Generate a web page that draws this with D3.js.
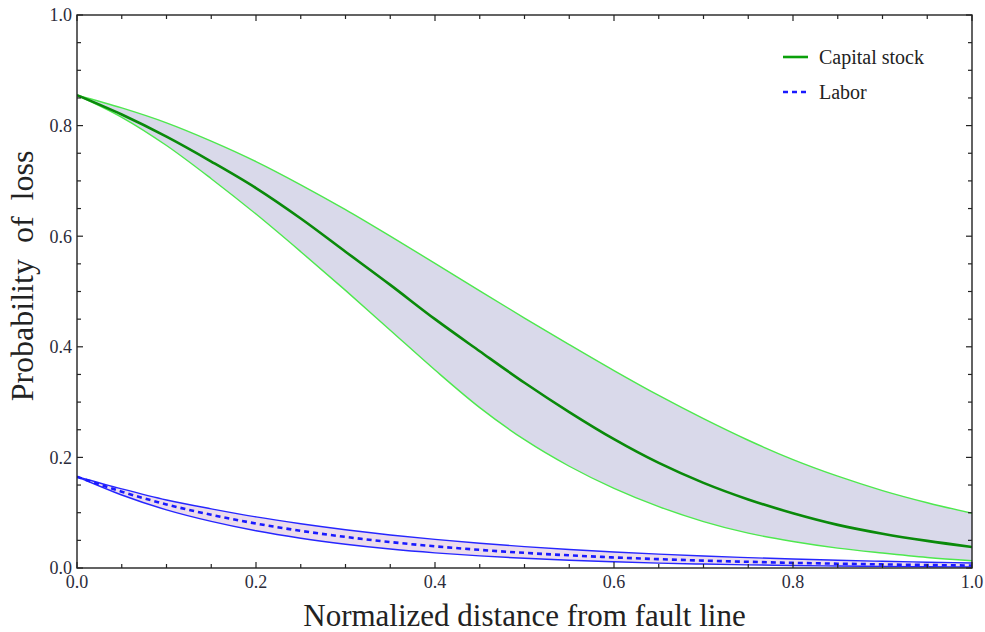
<!DOCTYPE html>
<html lang="en">
<head>
  <meta charset="UTF-8">
  <title>Probability of loss</title>
  <script src="https://d3js.org/d3.v7.min.js"></script>
  <style>
    body { margin: 0; background: #fff; }
    svg text { font-family: "Liberation Serif", "Times New Roman", serif; }
    .tick-label { font-size: 18px; fill: #2b2b3a; }
    .axis-title { font-size: 31px; fill: #222; white-space: pre; }
    .y-title { font-size: 32px; }
    .legend { font-size: 20px; fill: #222; }
    .frame { fill: none; stroke: #222; stroke-width: 1.4px; }
    .tk { stroke: #222; stroke-width: 1.2px; }
  </style>
</head>
<body>
  <div id="chart"></div>
  <script>
    // distance grid (step 0.05)
    const xs = [0, 0.05, 0.1, 0.15, 0.2, 0.25, 0.3, 0.35, 0.4, 0.45, 0.5,
                0.55, 0.6, 0.65, 0.7, 0.75, 0.8, 0.85, 0.9, 0.95, 1.0];

    // capital stock: mean and band
    const capMid = [0.855, 0.820, 0.780, 0.735, 0.687, 0.632, 0.572, 0.512, 0.450, 0.392, 0.335,
                    0.282, 0.233, 0.190, 0.154, 0.124, 0.099, 0.078, 0.062, 0.049, 0.038];
    const capHi  = [0.855, 0.832, 0.805, 0.772, 0.735, 0.693, 0.648, 0.600, 0.551, 0.501, 0.452,
                    0.404, 0.357, 0.312, 0.270, 0.231, 0.196, 0.166, 0.140, 0.118, 0.099];
    const capLo  = [0.855, 0.815, 0.764, 0.704, 0.640, 0.572, 0.502, 0.430, 0.358, 0.290, 0.232,
                    0.184, 0.144, 0.111, 0.084, 0.063, 0.048, 0.036, 0.027, 0.019, 0.013];

    // labor: mean and band
    const labMid = [0.165, 0.138, 0.115, 0.0962, 0.0804, 0.0672, 0.0562, 0.0469, 0.0392, 0.0328, 0.0274,
                    0.0229, 0.0191, 0.0160, 0.0134, 0.0112, 0.0093, 0.0078, 0.0065, 0.0054, 0.0045];
    const labHi  = [0.165, 0.143, 0.123, 0.107, 0.0924, 0.0800, 0.0692, 0.0598, 0.0518, 0.0448, 0.0387,
                    0.0335, 0.0290, 0.0251, 0.0217, 0.0188, 0.0162, 0.0140, 0.0121, 0.0105, 0.0091];
    const labLo  = [0.165, 0.132, 0.105, 0.0842, 0.0673, 0.0538, 0.0430, 0.0343, 0.0274, 0.0219, 0.0175,
                    0.0140, 0.0112, 0.0089, 0.0071, 0.0057, 0.0046, 0.0036, 0.0029, 0.0023, 0.0019];

    const majorTicks = [0, 0.2, 0.4, 0.6, 0.8, 1.0];
    const minorTicks = d3.range(0, 21).map(i => i * 0.05);
    const legendItems = ["Capital stock", "Labor"];

    const W = 985, H = 632;
    const margin = { top: 15, right: 13, bottom: 64, left: 77 };
    const width = W - margin.left - margin.right,
          height = H - margin.top - margin.bottom;

    const svg = d3.select("#chart").append("svg")
      .attr("width", W).attr("height", H);
    const g = svg.append("g").attr("transform", `translate(${margin.left},${margin.top})`);

    const x = d3.scaleLinear().domain([0, 1]).range([0, width]);
    const y = d3.scaleLinear().domain([0, 1]).range([height, 0]);

    g.append("clipPath").attr("id", "clip")
      .append("rect").attr("x", 0).attr("y", -2).attr("width", width).attr("height", height + 4);

    const plot = g.append("g").attr("clip-path", "url(#clip)");

    const band = (lo, hi) => d3.area()
      .x((d, i) => x(xs[i])).y0((d, i) => y(lo[i])).y1((d, i) => y(hi[i]))
      .curve(d3.curveMonotoneX)(xs);
    const line = vals => d3.line()
      .x((d, i) => x(xs[i])).y((d, i) => y(vals[i]))
      .curve(d3.curveMonotoneX)(xs);

    plot.append("path").attr("d", band(capLo, capHi)).attr("fill", "#d9d9ea");
    plot.append("path").attr("d", band(labLo, labHi)).attr("fill", "#ecdcec");

    [capHi, capLo].forEach(v => plot.append("path").attr("d", line(v))
      .attr("fill", "none").attr("stroke", "#4ee84e").attr("stroke-width", 1.4));
    [labHi, labLo].forEach(v => plot.append("path").attr("d", line(v))
      .attr("fill", "none").attr("stroke", "#2626ff").attr("stroke-width", 1.4));

    plot.append("path").attr("d", line(capMid))
      .attr("fill", "none").attr("stroke", "#0a8a0a").attr("stroke-width", 2.6);
    plot.append("path").attr("d", line(labMid))
      .attr("fill", "none").attr("stroke", "#1a1aff").attr("stroke-width", 2.6)
      .attr("stroke-dasharray", "5,4");

    // frame and inward ticks on all sides
    g.append("rect").attr("class", "frame").attr("width", width).attr("height", height);

    const isMajor = t => majorTicks.some(m => Math.abs(m - t) < 1e-9);
    minorTicks.forEach(t => {
      const len = isMajor(t) ? 6 : 4;
      g.append("line").attr("class", "tk")
        .attr("x1", x(t)).attr("x2", x(t)).attr("y1", height).attr("y2", height - len);
      g.append("line").attr("class", "tk")
        .attr("x1", x(t)).attr("x2", x(t)).attr("y1", 0).attr("y2", len);
      g.append("line").attr("class", "tk")
        .attr("y1", y(t)).attr("y2", y(t)).attr("x1", 0).attr("x2", len);
      g.append("line").attr("class", "tk")
        .attr("y1", y(t)).attr("y2", y(t)).attr("x1", width).attr("x2", width - len);
    });

    majorTicks.forEach(t => {
      g.append("text").attr("class", "tick-label")
        .attr("x", x(t)).attr("y", height + 20).attr("text-anchor", "middle")
        .text(t.toFixed(1));
      g.append("text").attr("class", "tick-label")
        .attr("x", -5).attr("y", y(t)).attr("dy", "0.35em").attr("text-anchor", "end")
        .text(t.toFixed(1));
    });

    // axis titles
    svg.append("text").attr("class", "axis-title")
      .attr("x", margin.left + width / 2).attr("y", 626).attr("text-anchor", "middle")
      .text("Normalized distance from fault line");
    svg.append("text").attr("class", "axis-title y-title")
      .attr("transform", `translate(33,${276}) rotate(-90)`).attr("text-anchor", "middle")
      .attr("xml:space", "preserve")
      .text("Probability  of  loss");

    // legend
    const lg = svg.append("g").attr("transform", "translate(783,57)");
    legendItems.forEach((name, i) => {
      const row = lg.append("g").attr("transform", `translate(0,${i * 35})`);
      row.append("line").attr("x1", 0).attr("x2", 25).attr("y1", 0).attr("y2", 0)
        .attr("stroke", i === 0 ? "#0aa00a" : "#1a1aff").attr("stroke-width", 2.6)
        .attr("stroke-dasharray", i === 0 ? null : "5,4");
      row.append("text").attr("class", "legend").attr("x", 36).attr("y", 0).attr("dy", "0.33em")
        .text(name);
    });
  </script>
</body>
</html>
